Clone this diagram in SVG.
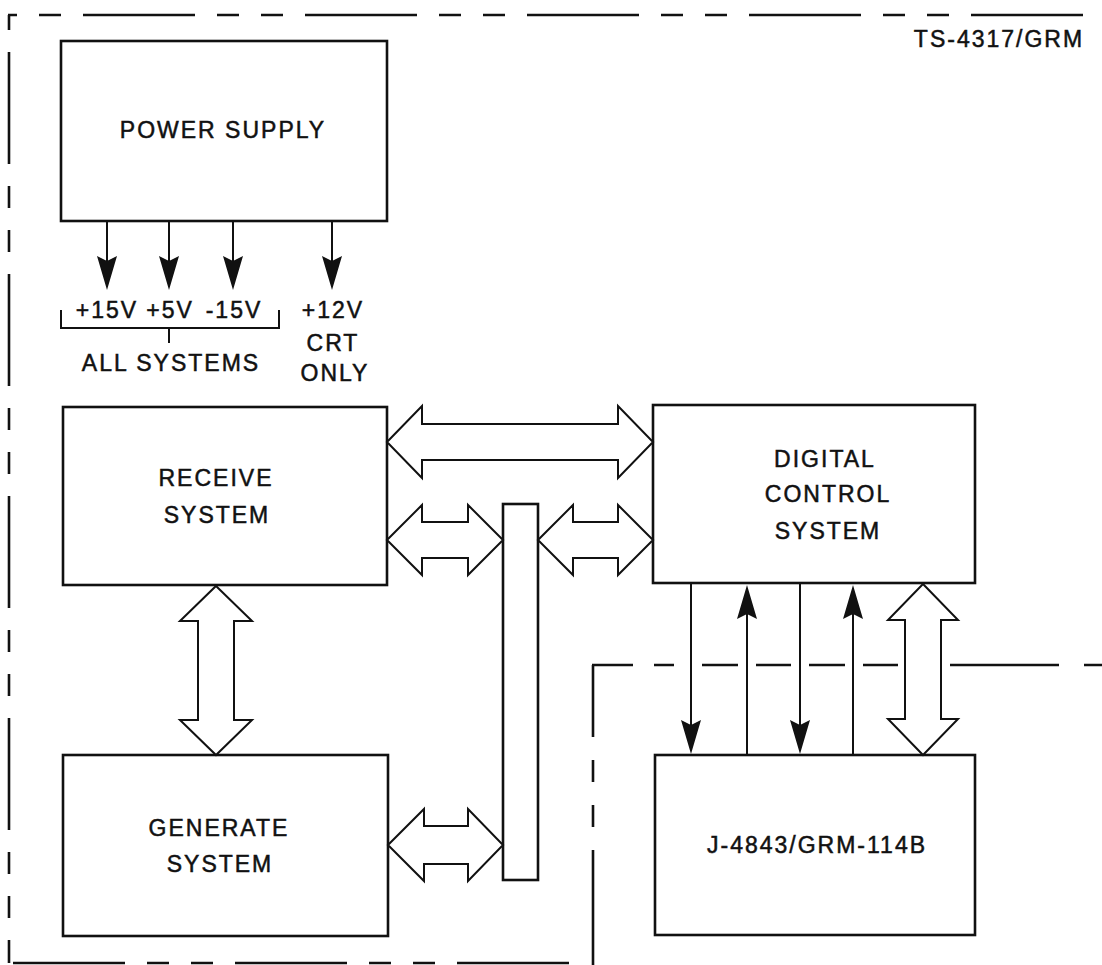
<svg xmlns="http://www.w3.org/2000/svg" width="1102" height="965" viewBox="0 0 1102 965">
<style>
.box{fill:#fff;stroke:#111;stroke-width:2.6}
.hol{fill:#fff;stroke:#111;stroke-width:2;stroke-linejoin:miter}
.thin{fill:none;stroke:#111;stroke-width:2}
.dash{fill:none;stroke:#111;stroke-width:2.6;stroke-dasharray:112 22 22 22 22 22}
.seg{fill:none;stroke:#111;stroke-width:2.6}
text{font-family:"Liberation Sans",Arial,Helvetica,sans-serif;font-size:23px;fill:#111;stroke:#111;stroke-width:0.5;text-anchor:middle;letter-spacing:2px}
</style>
<defs>
<marker id="ah" markerUnits="userSpaceOnUse" viewBox="-38 -12 40 24" refX="-6" refY="0" markerWidth="40" markerHeight="24" orient="auto">
<path d="M0,0 L-34,-10 L-29,0 L-34,10 Z" fill="#111"/>
</marker>
</defs>
<rect width="1102" height="965" fill="#fff"/>

<g id="borders">
<path class="dash" d="M8,15 H1102" stroke-dashoffset="147"/>
<path class="dash" d="M9,15 V963" stroke-dashoffset="185"/>
<path class="dash" d="M10,963 H590" stroke-dashoffset="219"/>
<path class="seg" d="M592,665 H633 M654,665 H674 M702,665 H738 M756,665 H791 M809,665 H845 M863,665 H898 M950,665 H1059 M1084,665 H1102"/>
<path class="seg" d="M593,665 V737 M593,760 V782 M593,805 V827 M593,850 V965"/>
<text x="999" y="47">TS-4317/GRM</text>
</g>

<g id="power-supply">
<rect class="box" x="61" y="41" width="326" height="180"/>
<text x="223" y="138">POWER SUPPLY</text>
</g>

<g id="receive-system">
<rect class="box" x="63" y="407" width="324" height="178"/>
<text x="216" y="486">RECEIVE</text>
<text x="217" y="523">SYSTEM</text>
</g>

<g id="generate-system">
<rect class="box" x="63" y="755" width="325" height="181"/>
<text x="219" y="836">GENERATE</text>
<text x="220" y="872">SYSTEM</text>
</g>

<g id="digital-control-system">
<rect class="box" x="653" y="405" width="322" height="178"/>
<text x="825" y="467">DIGITAL</text>
<text x="828" y="502">CONTROL</text>
<text x="828" y="539">SYSTEM</text>
</g>

<g id="j-4843">
<rect class="box" x="655" y="755" width="320" height="180"/>
<text x="817" y="853">J-4843/GRM-114B</text>
</g>

<g id="bus">
<rect class="box" x="503" y="504" width="35" height="376" stroke-width="2.2"/>
</g>

<g id="labels">
<text x="107" y="318">+15V</text>
<text x="170" y="318">+5V</text>
<text x="234" y="318">-15V</text>
<text x="333" y="318">+12V</text>
<path class="thin" d="M61,310 V328 H279 V310 M169,328 V343" stroke-width="1.6"/>
<text x="171" y="371">ALL SYSTEMS</text>
<text x="333" y="351">CRT</text>
<text x="335" y="381">ONLY</text>
</g>

<g id="connectors">
<line class="thin" x1="107" y1="221" x2="107" y2="284" marker-end="url(#ah)"/>
<line class="thin" x1="169" y1="221" x2="169" y2="284" marker-end="url(#ah)"/>
<line class="thin" x1="233" y1="221" x2="233" y2="284" marker-end="url(#ah)"/>
<line class="thin" x1="332" y1="221" x2="332" y2="284" marker-end="url(#ah)"/>

<line class="thin" x1="691" y1="584" x2="691" y2="748" marker-end="url(#ah)"/>
<line class="thin" x1="747" y1="755" x2="747" y2="591" marker-end="url(#ah)"/>
<line class="thin" x1="800" y1="584" x2="800" y2="748" marker-end="url(#ah)"/>
<line class="thin" x1="853" y1="755" x2="853" y2="591" marker-end="url(#ah)"/>

<polygon class="hol" points="387,442 422,406 422,424 618,424 618,406 653,442 618,478 618,460 422,460 422,478"/>
<polygon class="hol" points="387,540 422,505 422,522 468,522 468,505 503,540 468,575 468,558 422,558 422,575"/>
<polygon class="hol" points="538,540 573,505 573,522 618,522 618,505 653,540 618,575 618,558 573,558 573,575"/>
<polygon class="hol" points="388,845 424,809 424,826 468,826 468,809 503,845 468,881 468,864 424,864 424,881"/>
<polygon class="hol" points="216,586 252,621 234,621 234,720 252,720 216,755 180,720 198,720 198,621 180,621"/>
<polygon class="hol" points="923,584 958,620 941,620 941,719 958,719 923,755 888,719 905,719 905,620 888,620"/>
</g>
</svg>
